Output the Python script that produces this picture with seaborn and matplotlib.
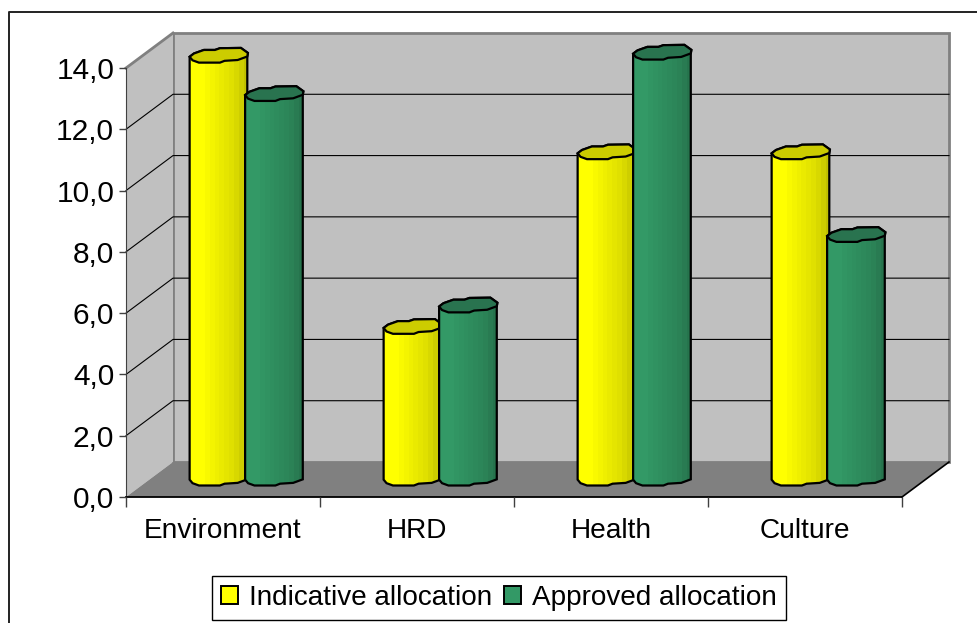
import matplotlib
matplotlib.use("Agg")
import matplotlib.pyplot as plt
import numpy as np
import pandas as pd
import seaborn as sns
from matplotlib.lines import Line2D
from matplotlib.patches import Patch, Polygon

categories = ["Environment", "HRD", "Health", "Culture"]
indicative = [13.8, 4.95, 10.65, 10.65]
approved = [12.55, 5.65, 13.9, 7.95]
series_names = ["Indicative allocation", "Approved allocation"]
y_ticks = [0, 2, 4, 6, 8, 10, 12, 14]
y_tick_labels = ["0,0", "2,0", "4,0", "6,0", "8,0", "10,0", "12,0", "14,0"]

W, H = 978, 623
LEFT, RIGHT, BOTTOM, TOP = 126, 902, 497, 68  # front plane, in pixels

# outline of a cylinder cap, rough polygon like the old Excel render
CAP = np.array([
    (-1, -0.22), (-0.85, 0.22), (-0.51, 0.69), (-0.13, 0.69), (0.04, 0.92),
    (0.76, 0.96), (1, 0.29), (0.98, -0.18), (0.65, -0.65), (0.2, -0.76),
    (0.04, -1), (-0.68, -1), (-0.9, -0.69),
])
SHADE = [1, 1, 1, 0.98, 0.96, 0.94, 0.92, 0.9, 0.88, 0.85, 0.81, 0.76]

plt.rcParams["font.family"] = ["Liberation Sans", "DejaVu Sans"]
plt.rcParams["font.size"] = 20

df = pd.DataFrame({
    "category": categories * 2,
    "value": indicative + approved,
    "series": [series_names[0]] * 4 + [series_names[1]] * 4,
})

fig = plt.figure(figsize=(W / 100, H / 100), dpi=100)
ax = fig.add_axes([LEFT / W, 1 - BOTTOM / H, (RIGHT - LEFT) / W, (BOTTOM - TOP) / H])
ax.patch.set_visible(False)

colors = {"face": ["#FFFF00", "#339966"], "cap": ["#CCCC00", "#29734F"]}
sns.barplot(
    data=df, x="category", y="value", hue="series", hue_order=series_names,
    palette=colors["face"], width=0.572, gap=0, legend=False, ax=ax,
)

px_x = 4 / (RIGHT - LEFT)
px_y = 14 / (BOTTOM - TOP)
depth_x = 47 * px_x
depth_y = 35 * px_y
x0, x1, y0, y1 = -0.5, 3.5, 0, 14

# walls and floor
ax.add_patch(Polygon([(x0 + depth_x, y0 + depth_y), (x1 + depth_x, y0 + depth_y),
                      (x1 + depth_x, y1 + depth_y), (x0 + depth_x, y1 + depth_y)],
                     fc="#C0C0C0", ec="#808080", lw=2, clip_on=False, zorder=0.1))
ax.add_patch(Polygon([(x0, y0), (x0 + depth_x, y0 + depth_y),
                      (x0 + depth_x, y1 + depth_y), (x0, y1)],
                     fc="#C0C0C0", ec="none", clip_on=False, zorder=0.1))
ax.plot([x0, x0 + depth_x], [y1, y1 + depth_y], color="#808080", lw=2, clip_on=False, zorder=0.15)
ax.add_patch(Polygon([(x0, y0), (x1, y0), (x1 + depth_x, y0 + depth_y),
                      (x0 + depth_x, y0 + depth_y)],
                     fc="#808080", ec="none", clip_on=False, zorder=0.2))
ax.plot([x1, x1 + depth_x], [y0, y0 + depth_y], color="black", lw=1.2, clip_on=False, zorder=0.3)

for t in y_ticks[1:-1]:
    ax.plot([x0, x0 + depth_x, x1 + depth_x], [t, t + depth_y, t + depth_y],
            color="black", lw=0.8, clip_on=False, zorder=0.3)

# seaborn gives the bar geometry, the cylinders get drawn over it
zorder = 2
for s, container in enumerate(ax.containers):
    base = np.array(matplotlib.colors.to_rgb(colors["face"][s]))
    grad = np.array([[base * f for f in SHADE]])
    for bar in container:
        bar.set_visible(False)
        w = bar.get_width() * 0.525
        cx = bar.get_x() + bar.get_width() / 2 + depth_x / 2
        cy0 = 19 * px_y
        cy1 = cy0 + bar.get_height()
        ry = 7.5 * px_y
        top = CAP * [w, ry] + [cx, cy1]
        low = CAP * [w, ry] + [cx, cy0]
        outline = np.vstack([top[:8], low[7:], low[:1]])
        body = Polygon(outline, fc="none", ec="black", lw=1.6, clip_on=False, zorder=zorder + 0.1)
        ax.add_patch(body)
        im = ax.imshow(grad, extent=[cx - w, cx + w, cy0 - ry, cy1 + ry], aspect="auto",
                       interpolation="nearest", zorder=zorder)
        im.set_clip_box(fig.bbox)
        im.set_clip_path(body)
        ax.add_patch(Polygon(top, fc=colors["cap"][s], ec="black", lw=1.6,
                             clip_on=False, zorder=zorder + 0.2))
        zorder += 1

ax.set_xlim(x0, x1)
ax.set_ylim(y0, y1)
ax.set_xlabel("")
ax.set_ylabel("")
ax.set_yticks(y_ticks, y_tick_labels)
ax.set_xticks(range(len(categories)), categories)
ax.set_xticks([x0, 0.5, 1.5, 2.5, x1], minor=True)
ax.tick_params(axis="x", which="major", length=0, pad=15, labelsize=20.2)
ax.tick_params(axis="x", which="minor", length=7, width=1, color="#404040")
ax.tick_params(axis="y", length=5, width=1, color="#404040", pad=3.5, labelsize=21.5)
ax.spines[["top", "right"]].set_visible(False)
ax.spines["left"].set_color("#404040")
ax.spines["bottom"].set_color("black")
ax.spines["bottom"].set_linewidth(1.3)
for side in ["left", "bottom"]:
    ax.spines[side].set_zorder(1)

handles = [Patch(fc=c, ec="black", lw=1.4) for c in colors["face"]]
leg = fig.legend(
    handles, series_names, ncol=2, loc="center", bbox_to_anchor=(499 / W, 1 - 598 / H),
    fancybox=False, edgecolor="black", framealpha=1, handlelength=0.6, handleheight=0.6,
    handletextpad=0.38, columnspacing=0.45, borderpad=0.33, borderaxespad=0, fontsize=20.1,
)
leg.get_frame().set_linewidth(1)

# chart area border, runs off the right and bottom of the picture
fig.add_artist(Line2D([9 / W, 9 / W, 1], [0, 1 - 12 / H, 1 - 12 / H],
                      color="#222222", lw=1.4))

fig.savefig("out.png", dpi=100)
